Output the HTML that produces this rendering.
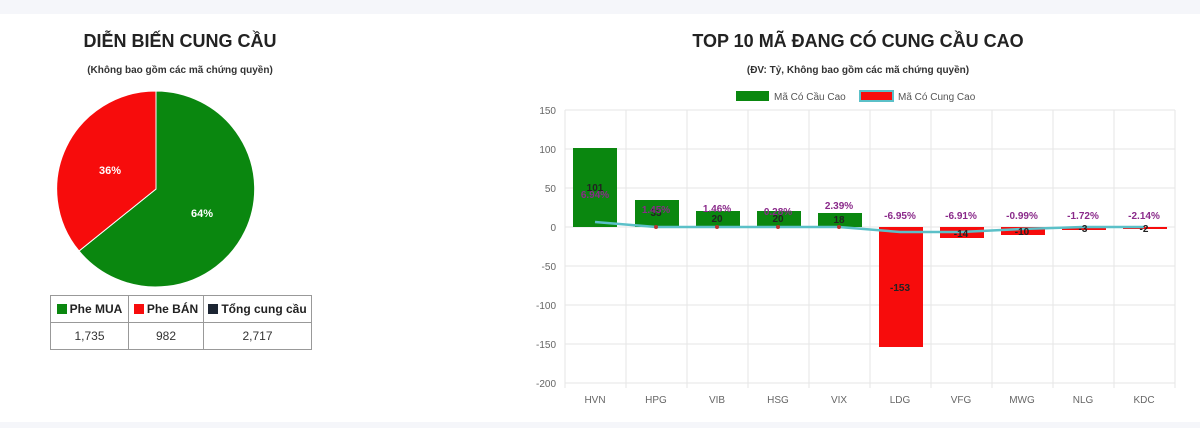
<!DOCTYPE html>
<html><head><meta charset="utf-8"><style>
body{margin:0;width:1200px;height:428px;background:#f5f6fa;font-family:"Liberation Sans",sans-serif;overflow:hidden}
.card{position:absolute;background:#fff}
table{position:absolute;left:50px;top:295px;border-collapse:collapse;font-size:12px;table-layout:fixed;width:261px}
td{border:1px solid #999;height:26px;text-align:center;color:#333;padding:0}
th{border:1px solid #999;height:26px;font-weight:bold;color:#222;padding:0;white-space:nowrap;overflow:hidden}
.sq{display:inline-block;width:10px;height:10px;vertical-align:-1px;margin-right:3px}
</style></head><body>
<div class="card" style="left:0;top:14px;width:1200px;height:408px"></div>
<svg width="1200" height="428" style="position:absolute;left:0;top:0" font-family="Liberation Sans, sans-serif">
<text x="180" y="47" text-anchor="middle" font-size="18" font-weight="bold" fill="#222">DIỄN BIẾN CUNG CẦU</text>
<text x="180" y="73" text-anchor="middle" font-size="10" font-weight="bold" fill="#333">(Không bao gồm các mã chứng quyền)</text>
<path d="M156,189 L156,91 A99,98 0 1 1 79,251 Z" fill="#0a870f" stroke="#fff" stroke-width="1"/>
<path d="M156,189 L79,251 A99,98 0 0 1 156,91 Z" fill="#f70c0c" stroke="#fff" stroke-width="1"/>
<text x="110" y="174" font-size="11" font-weight="bold" fill="#fff" text-anchor="middle">36%</text>
<text x="202" y="217" font-size="11" font-weight="bold" fill="#fff" text-anchor="middle">64%</text>
<text x="858" y="47" text-anchor="middle" font-size="18" font-weight="bold" fill="#222">TOP 10 MÃ ĐANG CÓ CUNG CẦU CAO</text>
<text x="858" y="73" text-anchor="middle" font-size="10" font-weight="bold" fill="#333">(ĐV: Tỷ, Không bao gồm các mã chứng quyền)</text>
<rect x="736" y="91" width="33" height="10" fill="#0a870f"/>
<text x="774" y="100" font-size="10" fill="#555">Mã Có Cầu Cao</text>
<rect x="860" y="91" width="33" height="10" fill="#f70c0c" stroke="#5bc0c8" stroke-width="2"/>
<text x="898" y="100" font-size="10" fill="#555">Mã Có Cung Cao</text>
<g stroke="#e6e6e6" stroke-width="1">
<line x1="565" y1="110" x2="1175" y2="110"/><line x1="565" y1="149" x2="1175" y2="149"/><line x1="565" y1="188" x2="1175" y2="188"/><line x1="565" y1="227" x2="1175" y2="227"/><line x1="565" y1="266" x2="1175" y2="266"/><line x1="565" y1="305" x2="1175" y2="305"/><line x1="565" y1="344" x2="1175" y2="344"/><line x1="565" y1="383" x2="1175" y2="383"/>
<line x1="565" y1="110" x2="565" y2="388"/><line x1="626" y1="110" x2="626" y2="388"/><line x1="687" y1="110" x2="687" y2="388"/><line x1="748" y1="110" x2="748" y2="388"/><line x1="809" y1="110" x2="809" y2="388"/><line x1="870" y1="110" x2="870" y2="388"/><line x1="931" y1="110" x2="931" y2="388"/><line x1="992" y1="110" x2="992" y2="388"/><line x1="1053" y1="110" x2="1053" y2="388"/><line x1="1114" y1="110" x2="1114" y2="388"/><line x1="1175" y1="110" x2="1175" y2="388"/>
</g>
<g font-size="10" fill="#666" text-anchor="end">
<text x="556" y="114">150</text><text x="556" y="153">100</text><text x="556" y="192">50</text><text x="556" y="231">0</text><text x="556" y="270">-50</text><text x="556" y="309">-100</text><text x="556" y="348">-150</text><text x="556" y="387">-200</text>
</g>
<g font-size="10" fill="#666" text-anchor="middle">
<text x="595" y="403">HVN</text><text x="656" y="403">HPG</text><text x="717" y="403">VIB</text><text x="778" y="403">HSG</text><text x="839" y="403">VIX</text><text x="900" y="403">LDG</text><text x="961" y="403">VFG</text><text x="1022" y="403">MWG</text><text x="1083" y="403">NLG</text><text x="1144" y="403">KDC</text>
</g>
<g fill="#0a870f">
<rect x="573" y="148" width="44" height="79"/><rect x="635" y="200" width="44" height="27"/><rect x="696" y="211" width="44" height="16"/><rect x="757" y="211" width="44" height="16"/><rect x="818" y="213" width="44" height="14"/>
</g>
<g fill="#f70c0c">
<rect x="879" y="227" width="44" height="120"/><rect x="940" y="227" width="44" height="11"/><rect x="1001" y="227" width="44" height="8"/><rect x="1062" y="227" width="44" height="3"/><rect x="1123" y="227" width="44" height="2"/>
</g>
<polyline points="595,222 656,227 717,227 778,227 839,227 900,232 961,232 1022,229 1083,227 1144,227" fill="none" stroke="#5bc0c8" stroke-width="2.5"/>
<g fill="#b33" ><circle cx="656" cy="227" r="2"/><circle cx="717" cy="227" r="2"/><circle cx="778" cy="227" r="2"/><circle cx="839" cy="227" r="2"/></g>
<g font-size="10" font-weight="bold" text-anchor="middle" fill="#222">
<text x="595" y="191">101</text><text x="656" y="216">35</text><text x="717" y="222">20</text><text x="778" y="222">20</text><text x="839" y="223">18</text><text x="900" y="291">-153</text><text x="961" y="237">-14</text><text x="1022" y="235">-10</text><text x="1083" y="232">-3</text><text x="1144" y="232">-2</text>
</g>
<g font-size="10" font-weight="bold" text-anchor="middle" fill="#8a2a8a">
<text x="595" y="198">6.94%</text><text x="656" y="213">1.45%</text><text x="717" y="212">1.46%</text><text x="778" y="215">0.28%</text><text x="839" y="209">2.39%</text><text x="900" y="219">-6.95%</text><text x="961" y="219">-6.91%</text><text x="1022" y="219">-0.99%</text><text x="1083" y="219">-1.72%</text><text x="1144" y="219">-2.14%</text>
</g>
</svg>
<table>
<colgroup><col style="width:78px"><col style="width:75px"><col style="width:108px"></colgroup>
<tr><th><span class="sq" style="background:#0a870f"></span>Phe MUA</th><th><span class="sq" style="background:#f70c0c"></span>Phe BÁN</th><th><span class="sq" style="background:#1c2533"></span>Tổng cung cầu</th></tr>
<tr><td>1,735</td><td>982</td><td>2,717</td></tr>
</table>
</body></html>
